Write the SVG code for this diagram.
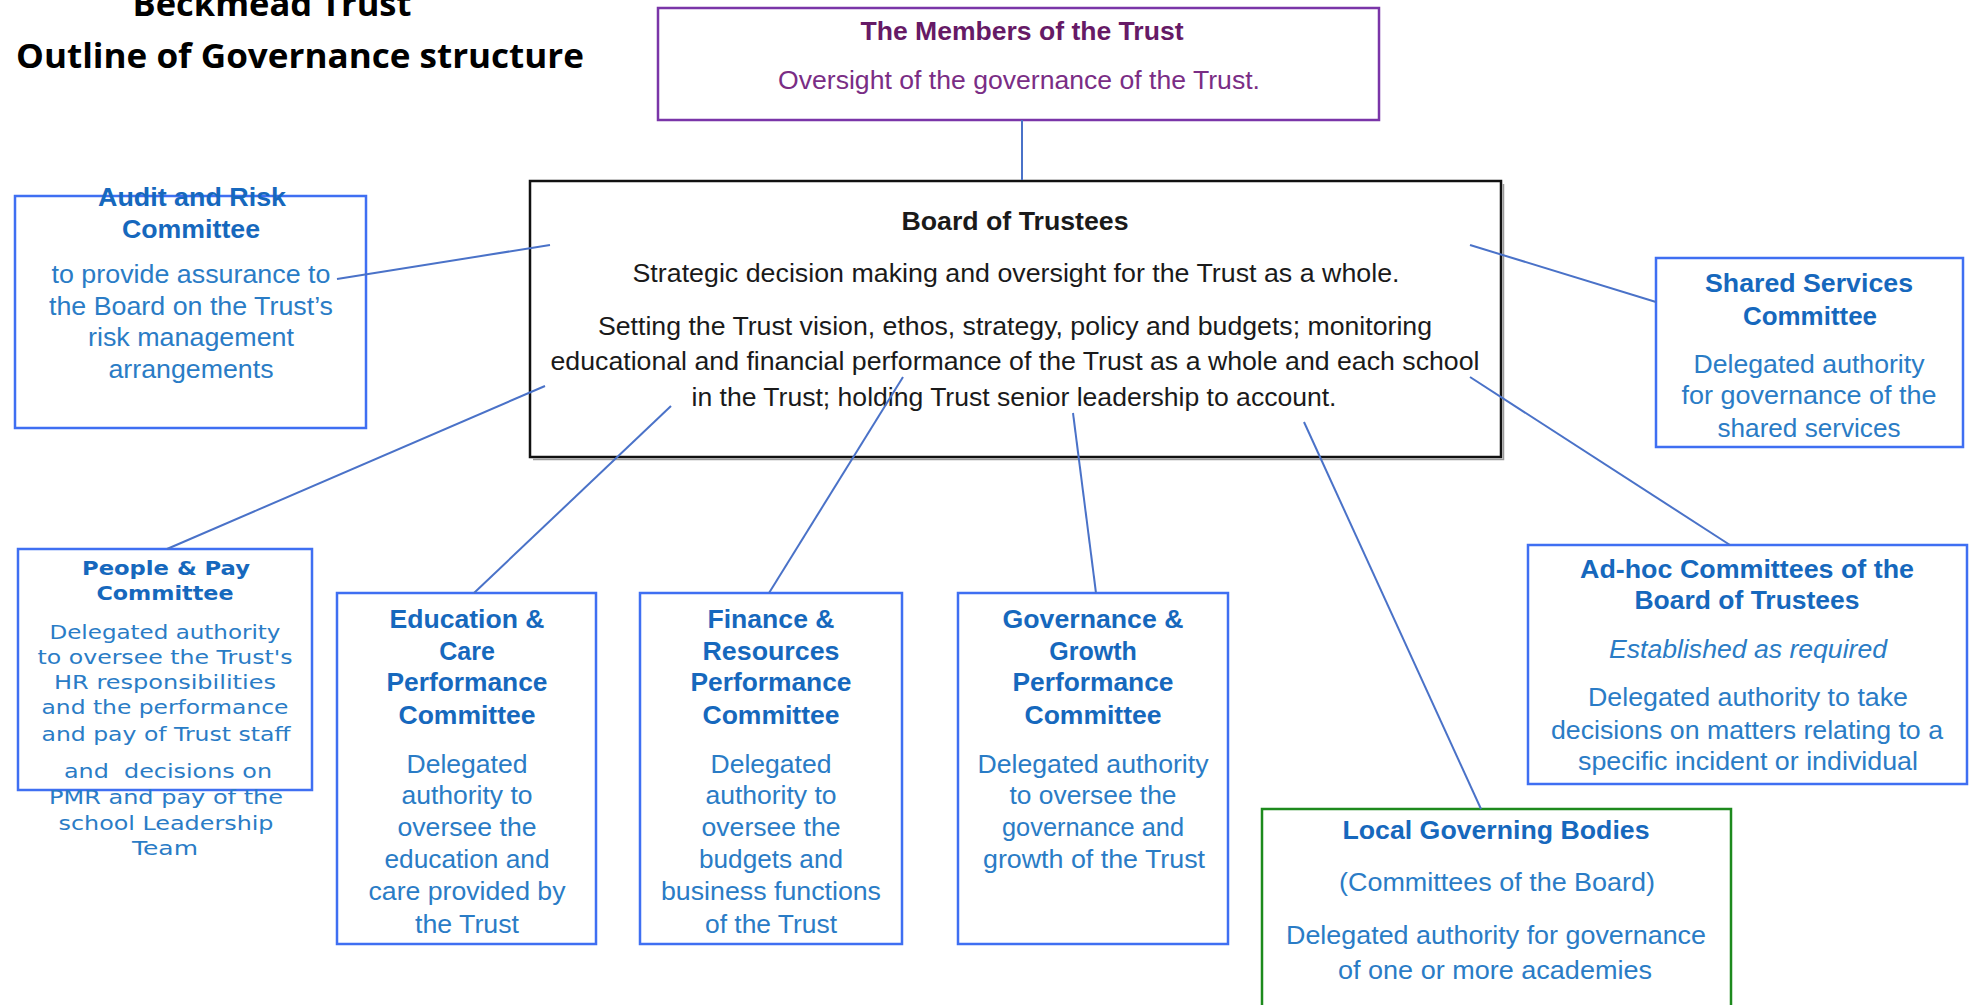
<svg xmlns="http://www.w3.org/2000/svg" width="1973" height="1005" viewBox="0 0 1973 1005">
  <style>
    .bg { fill: #ffffff; }
    .heading { font-family: "Open Sans", "Liberation Sans", sans-serif; font-weight: 700; font-size: 34px; fill: #000000; text-anchor: middle; }
    .box-blue { fill: #ffffff; stroke: #3f6ff2; stroke-width: 2.5; }
    .box-purple { fill: #ffffff; stroke: #7a35a8; stroke-width: 2.5; }
    .box-green { fill: #ffffff; stroke: #1d8a1d; stroke-width: 2.5; }
    .box-board { fill: #ffffff; stroke: #111111; stroke-width: 2.5; }
    .shadow { fill: none; stroke: #9a9a9a; stroke-width: 1.5; }
    .t { font-family: "Liberation Sans", Arial, sans-serif; font-size: 25px; text-anchor: middle; }
    .tb { font-weight: 700; }
    .ti { font-style: italic; }
    .blue-h { fill: #1668bd; }
    .blue { fill: #2a7cc6; }
    .purple-h { fill: #661a66; }
    .purple { fill: #7a2d85; }
    .black { fill: #1a1a1a; }
    .pp { font-family: "DejaVu Sans", Verdana, sans-serif; font-size: 19px; text-anchor: middle; }
    .link { stroke: #4a72c8; stroke-width: 2; fill: none; }
  </style>

  <rect class="bg" x="0" y="0" width="1973" height="1005"/>

  <!-- page heading -->
  <g id="heading">
    <text class="heading" x="272" y="16" textLength="279" lengthAdjust="spacingAndGlyphs">Beckmead Trust</text>
    <text class="heading" x="300" y="68" textLength="568" lengthAdjust="spacingAndGlyphs">Outline of Governance structure</text>
  </g>

  <!-- Members -->
  <g id="members">
    <rect class="box-purple" x="658" y="8" width="721" height="112"/>
    <text class="t tb purple-h" x="1022" y="40" textLength="323" lengthAdjust="spacingAndGlyphs">The Members of the Trust</text>
    <text class="t purple" x="1019" y="89" textLength="482" lengthAdjust="spacingAndGlyphs">Oversight of the governance of the Trust.</text>
  </g>

  <!-- Board of Trustees -->
  <g id="board">
    <path class="shadow" d="M533 459.5 H1503.5 V184"/>
    <rect class="box-board" x="530" y="181" width="971" height="276"/>
    <text class="t tb black" x="1015" y="230" textLength="227" lengthAdjust="spacingAndGlyphs">Board of Trustees</text>
    <text class="t black" x="1016" y="282" textLength="767" lengthAdjust="spacingAndGlyphs">Strategic decision making and oversight for the Trust as a whole.</text>
    <text class="t black" x="1015" y="335" textLength="834" lengthAdjust="spacingAndGlyphs">Setting the Trust vision, ethos, strategy, policy and budgets; monitoring</text>
    <text class="t black" x="1015" y="370" textLength="929" lengthAdjust="spacingAndGlyphs">educational and financial performance of the Trust as a whole and each school</text>
    <text class="t black" x="1014" y="406" textLength="645" lengthAdjust="spacingAndGlyphs">in the Trust; holding Trust senior leadership to account.</text>
  </g>

  <!-- Audit and Risk Committee -->
  <g id="audit-risk">
    <rect class="box-blue" x="15" y="196" width="351" height="232"/>
    <text class="t tb blue-h" x="192" y="206" textLength="188" lengthAdjust="spacingAndGlyphs">Audit and Risk</text>
    <text class="t tb blue-h" x="191" y="238" textLength="138" lengthAdjust="spacingAndGlyphs">Committee</text>
    <text class="t blue" x="191" y="283" textLength="279" lengthAdjust="spacingAndGlyphs">to provide assurance to</text>
    <text class="t blue" x="191" y="315" textLength="284" lengthAdjust="spacingAndGlyphs">the Board on the Trust’s</text>
    <text class="t blue" x="191" y="346" textLength="206" lengthAdjust="spacingAndGlyphs">risk management</text>
    <text class="t blue" x="191" y="378" textLength="165" lengthAdjust="spacingAndGlyphs">arrangements</text>
  </g>

  <!-- Shared Services Committee -->
  <g id="shared-services">
    <rect class="box-blue" x="1656" y="258" width="307" height="189"/>
    <text class="t tb blue-h" x="1809" y="292" textLength="208" lengthAdjust="spacingAndGlyphs">Shared Services</text>
    <text class="t tb blue-h" x="1810" y="325" textLength="134" lengthAdjust="spacingAndGlyphs">Committee</text>
    <text class="t blue" x="1809" y="373" textLength="231" lengthAdjust="spacingAndGlyphs">Delegated authority</text>
    <text class="t blue" x="1809" y="404" textLength="255" lengthAdjust="spacingAndGlyphs">for governance of the</text>
    <text class="t blue" x="1809" y="437" textLength="183" lengthAdjust="spacingAndGlyphs">shared services</text>
  </g>

  <!-- People & Pay Committee -->
  <g id="people-pay">
    <rect class="box-blue" x="18" y="549" width="294" height="241"/>
    <text class="pp tb blue-h" x="166" y="575" textLength="168" lengthAdjust="spacingAndGlyphs">People &amp; Pay</text>
    <text class="pp tb blue-h" x="165" y="600" textLength="137" lengthAdjust="spacingAndGlyphs">Committee</text>
    <text class="pp blue" x="165" y="639" textLength="231" lengthAdjust="spacingAndGlyphs">Delegated authority</text>
    <text class="pp blue" x="165" y="664" textLength="255" lengthAdjust="spacingAndGlyphs">to oversee the Trust's</text>
    <text class="pp blue" x="165" y="689" textLength="222" lengthAdjust="spacingAndGlyphs">HR responsibilities</text>
    <text class="pp blue" x="165" y="714" textLength="247" lengthAdjust="spacingAndGlyphs">and the performance</text>
    <text class="pp blue" x="166" y="741" textLength="249" lengthAdjust="spacingAndGlyphs">and pay of Trust staff</text>
    <text class="pp blue" x="168" y="778" textLength="208" lengthAdjust="spacingAndGlyphs" xml:space="preserve">and  decisions on</text>
    <text class="pp blue" x="166" y="804" textLength="234" lengthAdjust="spacingAndGlyphs">PMR and pay of the</text>
    <text class="pp blue" x="166" y="830" textLength="215" lengthAdjust="spacingAndGlyphs">school Leadership</text>
    <text class="pp blue" x="165" y="855" textLength="66" lengthAdjust="spacingAndGlyphs">Team</text>
  </g>

  <!-- Education & Care Performance Committee -->
  <g id="education-care">
    <rect class="box-blue" x="337" y="593" width="259" height="351"/>
    <text class="t tb blue-h" x="467" y="628" textLength="155" lengthAdjust="spacingAndGlyphs">Education &amp;</text>
    <text class="t tb blue-h" x="467" y="660">Care</text>
    <text class="t tb blue-h" x="467" y="691" textLength="161" lengthAdjust="spacingAndGlyphs">Performance</text>
    <text class="t tb blue-h" x="467" y="724" textLength="137" lengthAdjust="spacingAndGlyphs">Committee</text>
    <text class="t blue" x="467" y="773" textLength="121" lengthAdjust="spacingAndGlyphs">Delegated</text>
    <text class="t blue" x="467" y="804" textLength="131" lengthAdjust="spacingAndGlyphs">authority to</text>
    <text class="t blue" x="467" y="836" textLength="139" lengthAdjust="spacingAndGlyphs">oversee the</text>
    <text class="t blue" x="467" y="868" textLength="165" lengthAdjust="spacingAndGlyphs">education and</text>
    <text class="t blue" x="467" y="900" textLength="197" lengthAdjust="spacingAndGlyphs">care provided by</text>
    <text class="t blue" x="467" y="933" textLength="104" lengthAdjust="spacingAndGlyphs">the Trust</text>
  </g>

  <!-- Finance & Resources Performance Committee -->
  <g id="finance-resources">
    <rect class="box-blue" x="640" y="593" width="262" height="351"/>
    <text class="t tb blue-h" x="771" y="628" textLength="127" lengthAdjust="spacingAndGlyphs">Finance &amp;</text>
    <text class="t tb blue-h" x="771" y="660" textLength="137" lengthAdjust="spacingAndGlyphs">Resources</text>
    <text class="t tb blue-h" x="771" y="691" textLength="161" lengthAdjust="spacingAndGlyphs">Performance</text>
    <text class="t tb blue-h" x="771" y="724" textLength="137" lengthAdjust="spacingAndGlyphs">Committee</text>
    <text class="t blue" x="771" y="773" textLength="121" lengthAdjust="spacingAndGlyphs">Delegated</text>
    <text class="t blue" x="771" y="804" textLength="131" lengthAdjust="spacingAndGlyphs">authority to</text>
    <text class="t blue" x="771" y="836" textLength="139" lengthAdjust="spacingAndGlyphs">oversee the</text>
    <text class="t blue" x="771" y="868" textLength="144" lengthAdjust="spacingAndGlyphs">budgets and</text>
    <text class="t blue" x="771" y="900" textLength="220" lengthAdjust="spacingAndGlyphs">business functions</text>
    <text class="t blue" x="771" y="933" textLength="132" lengthAdjust="spacingAndGlyphs">of the Trust</text>
  </g>

  <!-- Governance & Growth Performance Committee -->
  <g id="governance-growth">
    <rect class="box-blue" x="958" y="593" width="270" height="351"/>
    <text class="t tb blue-h" x="1093" y="628" textLength="181" lengthAdjust="spacingAndGlyphs">Governance &amp;</text>
    <text class="t tb blue-h" x="1093" y="660">Growth</text>
    <text class="t tb blue-h" x="1093" y="691" textLength="161" lengthAdjust="spacingAndGlyphs">Performance</text>
    <text class="t tb blue-h" x="1093" y="724" textLength="137" lengthAdjust="spacingAndGlyphs">Committee</text>
    <text class="t blue" x="1093" y="773" textLength="231" lengthAdjust="spacingAndGlyphs">Delegated authority</text>
    <text class="t blue" x="1093" y="804" textLength="167" lengthAdjust="spacingAndGlyphs">to oversee the</text>
    <text class="t blue" x="1093" y="836" textLength="182" lengthAdjust="spacingAndGlyphs">governance and</text>
    <text class="t blue" x="1094" y="868" textLength="222" lengthAdjust="spacingAndGlyphs">growth of the Trust</text>
  </g>

  <!-- Local Governing Bodies -->
  <g id="local-governing-bodies">
    <rect class="box-green" x="1262" y="809" width="469" height="210"/>
    <text class="t tb blue-h" x="1496" y="839" textLength="307" lengthAdjust="spacingAndGlyphs">Local Governing Bodies</text>
    <text class="t blue" x="1497" y="891" textLength="316" lengthAdjust="spacingAndGlyphs">(Committees of the Board)</text>
    <text class="t blue" x="1496" y="944" textLength="420" lengthAdjust="spacingAndGlyphs">Delegated authority for governance</text>
    <text class="t blue" x="1495" y="979" textLength="314" lengthAdjust="spacingAndGlyphs">of one or more academies</text>
  </g>

  <!-- Ad-hoc Committees -->
  <g id="ad-hoc">
    <rect class="box-blue" x="1528" y="545" width="439" height="239"/>
    <text class="t tb blue-h" x="1747" y="578" textLength="334" lengthAdjust="spacingAndGlyphs">Ad-hoc Committees of the</text>
    <text class="t tb blue-h" x="1747" y="609" textLength="225" lengthAdjust="spacingAndGlyphs">Board of Trustees</text>
    <text class="t ti blue" x="1748" y="658" textLength="278" lengthAdjust="spacingAndGlyphs">Established as required</text>
    <text class="t blue" x="1748" y="706" textLength="320" lengthAdjust="spacingAndGlyphs">Delegated authority to take</text>
    <text class="t blue" x="1747" y="739" textLength="392" lengthAdjust="spacingAndGlyphs">decisions on matters relating to a</text>
    <text class="t blue" x="1748" y="770" textLength="340" lengthAdjust="spacingAndGlyphs">specific incident or individual</text>
  </g>

  <!-- connectors drawn over the boxes, reaching into the board's text area -->
  <g id="connectors">
    <line class="link" x1="1022" y1="120" x2="1022" y2="180"/>
    <line class="link" x1="337" y1="279" x2="550" y2="245"/>
    <line class="link" x1="1470" y1="245" x2="1656" y2="302"/>
    <line class="link" x1="167" y1="549" x2="545" y2="386"/>
    <line class="link" x1="474" y1="593" x2="671" y2="406"/>
    <line class="link" x1="769" y1="593" x2="903" y2="377"/>
    <line class="link" x1="1096" y1="593" x2="1073" y2="413"/>
    <line class="link" x1="1481" y1="809" x2="1304" y2="422"/>
    <line class="link" x1="1730" y1="545" x2="1470" y2="377"/>
  </g>
</svg>
